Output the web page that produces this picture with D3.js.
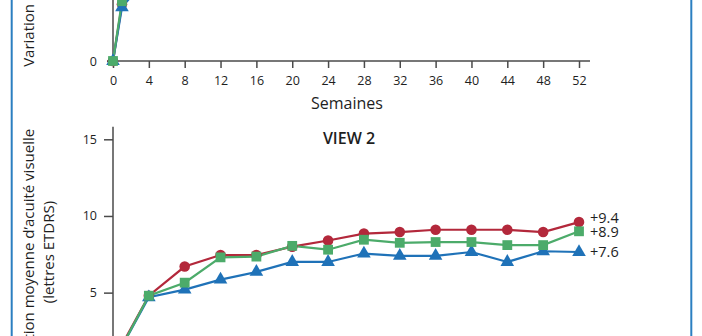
<!DOCTYPE html>
<html>
<head>
<meta charset="utf-8">
<script src="https://cdn.jsdelivr.net/npm/d3@7"></script>
<style>
  html, body { margin: 0; padding: 0; background: #fff; }
  svg { display: block; font-family: "Open Sans", "Noto Sans", sans-serif; }
</style>
</head>
<body>
<svg id="chart" width="702" height="336"></svg>
<script>
// ---------- data ----------
const xTicks = [0, 4, 8, 12, 16, 20, 24, 28, 32, 36, 40, 44, 48, 52];
const yTicks = [0, 5, 10, 15];
const xAxisTitle = "Semaines";
const yTitleLine1 = "Variation moyenne d\u2019acuité visuelle";
const yTitleLine2 = "(lettres ETDRS)";

// VIEW 1 (only the lowest part is visible)
const view1Title = "VIEW 1";
const view1Weeks = [0, 1, 4];
const view1Red   = [0, 3.7, 6.0];
const view1Blue  = [0, 3.5, 5.6];
const view1Green = [0, 3.9, 5.9];

// VIEW 2
const view2Title = "VIEW 2";
const view2Weeks = [0, 1, 4, 8, 12, 16, 20, 24, 28, 32, 36, 40, 44, 48, 52];
const view2Red   = [0, 1.6, 4.8, 6.7, 7.45, 7.45, 8.0, 8.4, 8.85, 8.95, 9.1, 9.1, 9.1, 8.95, 9.6];
const view2Green = [0, 1.5, 4.8, 5.65, 7.3, 7.35, 8.05, 7.8, 8.45, 8.25, 8.3, 8.3, 8.1, 8.1, 9.0];
const view2Blue  = [0, 1.5, 4.7, 5.2, 5.85, 6.35, 7.0, 7.0, 7.55, 7.4, 7.4, 7.65, 7.0, 7.7, 7.65];
const view2EndLabels = ["+9.4", "+8.9", "+7.6"]; // red, green, blue

// ---------- styles ----------
const COL = { red: "#b3283b", green: "#4cab6a", blue: "#1f72b8" };
const axisColor = "#4a4a4a";
const textColor = "#1e1e1e";

const svg = d3.select("#chart");
svg.append("rect").attr("width", 702).attr("height", 336).attr("fill", "#fff");

// frame borders
svg.append("line").attr("x1", 11.7).attr("x2", 11.7).attr("y1", 0).attr("y2", 336)
  .attr("stroke", "#2b7fc1").attr("stroke-width", 2);
svg.append("line").attr("x1", 691.3).attr("x2", 691.3).attr("y1", 0).attr("y2", 336)
  .attr("stroke", "#2b7fc1").attr("stroke-width", 2);

const x = d3.scaleLinear().domain([0, 52]).range([113, 579]);

function drawChart(offsetY, title, weeks, series, endLabels) {
  const g = svg.append("g").attr("transform", `translate(0,${offsetY})`);
  const y = d3.scaleLinear().domain([0, 15]).range([369.3, 139.3]);

  // title
  g.append("text").attr("x", 349).attr("y", 144).attr("text-anchor", "middle")
    .attr("font-size", 16).attr("font-weight", 600).attr("fill", textColor).text(title);

  // y axis
  const ya = g.append("g").attr("transform", "translate(113,0)")
    .call(d3.axisLeft(y).tickValues(yTicks).tickSize(9).tickPadding(7).tickSizeOuter(0));
  ya.select(".domain").remove();
  ya.selectAll(".tick line").attr("stroke", axisColor).attr("stroke-width", 1.5)
    .filter(d => d === 0).attr("x2", -6);
  ya.selectAll(".tick text").attr("font-size", 12.5).attr("fill", textColor)
    .attr("font-family", "'Open Sans', sans-serif");
  g.append("line").attr("x1", 113).attr("x2", 113).attr("y1", y(15) - 12.6).attr("y2", y(0))
    .attr("stroke", axisColor).attr("stroke-width", 1.5);

  // x axis
  const xa = g.append("g").attr("transform", `translate(0,${y(0)})`)
    .call(d3.axisBottom(x).tickValues(xTicks).tickSize(7).tickPadding(8).tickSizeOuter(0));
  xa.select(".domain").remove();
  xa.selectAll(".tick line").attr("stroke", axisColor).attr("stroke-width", 1.5);
  xa.selectAll(".tick text").attr("font-size", 12.5).attr("fill", textColor)
    .attr("font-family", "'Open Sans', sans-serif");
  g.append("line").attr("x1", 107).attr("x2", 590).attr("y1", y(0)).attr("y2", y(0))
    .attr("stroke", axisColor).attr("stroke-width", 1.5);

  g.append("text").attr("x", 347).attr("y", y(0) + 48).attr("text-anchor", "middle")
    .attr("font-size", 16).attr("fill", textColor).text(xAxisTitle);

  // y title (two lines, rotated)
  const cy = 252;
  g.append("text").attr("transform", `translate(33.5,${cy}) rotate(-90)`)
    .attr("text-anchor", "middle").attr("font-size", 15).attr("fill", textColor).text(yTitleLine1);
  g.append("text").attr("transform", `translate(53.5,${cy}) rotate(-90)`)
    .attr("text-anchor", "middle").attr("font-size", 15).attr("fill", textColor).text(yTitleLine2);

  // series: drawing order red, blue, green
  const line = d3.line().x(d => x(d[0])).y(d => y(d[1]));
  series.forEach(s => {
    const pts = weeks.map((w, i) => [w, s.values[i]]);
    g.append("path").attr("d", line(pts)).attr("fill", "none")
      .attr("stroke", s.color).attr("stroke-width", 2.2);
  });
  series.forEach(s => {
    const pts = weeks.map((w, i) => [w, s.values[i]]);
    g.selectAll(null).data(pts).enter().append("path")
      .attr("transform", d => `translate(${x(d[0])},${y(d[1])})`)
      .attr("d", d3.symbol().type(s.symbol).size(s.size))
      .attr("fill", s.color);
  });

  if (endLabels) {
    endLabels.forEach(l => {
      const last = l.values[l.values.length - 1];
      g.append("text").attr("x", x(52) + 11).attr("y", y(last) + l.dy)
        .attr("dominant-baseline", "middle").attr("font-size", 14.5)
        .attr("fill", textColor).text(l.text);
    });
  }
}

// VIEW 1 (top, mostly above the visible window)
drawChart(-308.3, view1Title, view1Weeks, [
  { values: view1Red,   color: COL.red,   symbol: d3.symbolCircle,   size: 88 },
  { values: view1Blue,  color: COL.blue,  symbol: d3.symbolTriangle, size: 80 },
  { values: view1Green, color: COL.green, symbol: d3.symbolSquare,   size: 96 }
], null);

// VIEW 2
drawChart(0, view2Title, view2Weeks, [
  { values: view2Red,   color: COL.red,   symbol: d3.symbolCircle,   size: 88 },
  { values: view2Blue,  color: COL.blue,  symbol: d3.symbolTriangle, size: 80 },
  { values: view2Green, color: COL.green, symbol: d3.symbolSquare,   size: 96 }
], [
  { text: view2EndLabels[0], values: view2Red,   dy: -3 },
  { text: view2EndLabels[1], values: view2Green, dy: 2 },
  { text: view2EndLabels[2], values: view2Blue,  dy: 1.5 }
]);
</script>
</body>
</html>
